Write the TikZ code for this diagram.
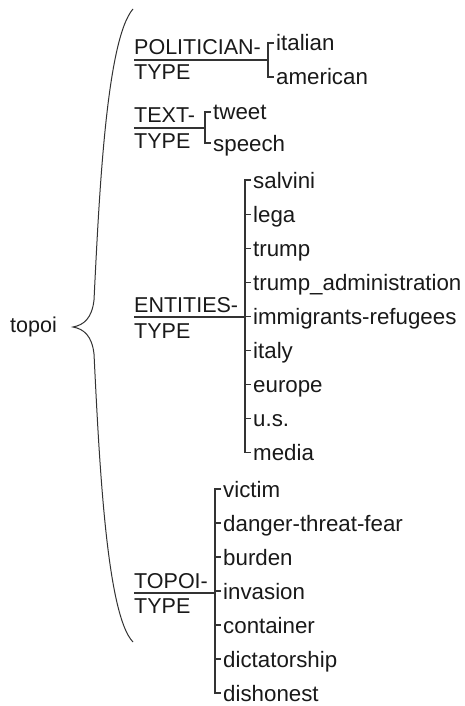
\documentclass[tikz,border=0pt]{standalone}
\usepackage{fontspec}
\setmainfont{Liberation Sans}
\usetikzlibrary{positioning}

\tikzset{
  txt/.style={font=\fontsize{22.3}{26}\selectfont, text=black!90},
  leaf/.style={txt, anchor=west, inner xsep=2pt, inner ysep=0pt,
    text height=18pt, text depth=2pt},
  cat/.style={txt, font=\fontsize{21.5}{26}\selectfont, anchor=base west, inner sep=0pt},
  link/.style={draw=black!80, line width=1.1pt}
}

\begin{document}
\begin{tikzpicture}[x=1pt,y=-1pt]
\useasboundingbox (0,0) rectangle (465,706);

% root and brace
\node[cat] (root) at (10,332) {topoi};
\coordinate (br-top) at (133,9);
\coordinate (br-tip) at (73,327);
\coordinate (br-bot) at (133,642);
\draw[link, line width=1pt] (br-top) .. controls (106,40) and (99,200) .. (94,300)
  .. controls (92,318) and (84,325) .. (br-tip)
  .. controls (84,329) and (92,336) .. (94,354)
  .. controls (99,454) and (106,614) .. (br-bot);

% POLITICIAN-TYPE
\coordinate (pol) at (134,60);
\coordinate (pol-j) at (268,60);
\node[cat] (pol-a) at (134,55) {POLITICIAN-};
\node[cat] (pol-b) at (134,80) {TYPE};
\foreach \t [count=\i] in {italian,american}
  \node[leaf] (pol-\i) at (274,{43+34*(\i-1)}) {\t};
\draw[link] (pol) -- (pol-j);
\draw[link] (pol-1.west) -| (pol-j |- pol-2.west) -- (pol-2.west);

% TEXT-TYPE
\coordinate (txt) at (134,128);
\coordinate (txt-j) at (205,128);
\node[cat] (txt-a) at (134,122) {TEXT-};
\node[cat] (txt-b) at (134,148) {TYPE};
\foreach \t [count=\i] in {tweet,speech}
  \node[leaf] (txt-\i) at (211,{112+31*(\i-1)}) {\t};
\draw[link] (txt) -- (txt-j);
\draw[link] (txt-1.west) -| (txt-j |- txt-2.west) -- (txt-2.west);

% ENTITIES-TYPE
\coordinate (ent) at (134,317);
\coordinate (ent-j) at (245,317);
\node[cat] (ent-a) at (134,312) {ENTITIES-};
\node[cat] (ent-b) at (134,338) {TYPE};
\foreach \t [count=\i] in {salvini,lega,trump,trump\_administration,
    immigrants-refugees,italy,europe,u.s.,media}
  \node[leaf] (ent-\i) at (251,{180+34.1*(\i-1)}) {\t};
\draw[link] (ent) -- (ent-j);
\draw[link] (ent-1.west) -| (ent-j |- ent-9.west) -- (ent-9.west);
\foreach \i in {2,...,8}
  \draw[link] (ent-j |- ent-\i.west) -- (ent-\i.west);

% TOPOI-TYPE
\coordinate (top) at (134,593);
\coordinate (top-j) at (215,593);
\node[cat] (top-a) at (134,588) {TOPOI-};
\node[cat] (top-b) at (134,613) {TYPE};
\foreach \t [count=\i] in {victim,danger-threat-fear,burden,invasion,
    container,dictatorship,dishonest}
  \node[leaf] (top-\i) at (221,{489+34*(\i-1)}) {\t};
\draw[link] (top) -- (top-j);
\draw[link] (top-1.west) -| (top-j |- top-7.west) -- (top-7.west);
\foreach \i in {2,...,6}
  \draw[link] (top-j |- top-\i.west) -- (top-\i.west);
\end{tikzpicture}
\end{document}
